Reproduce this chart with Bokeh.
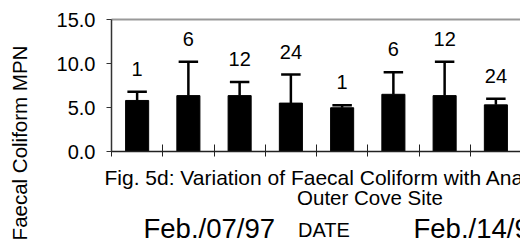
import math
from bokeh.plotting import figure
from bokeh.models import Range1d, FixedTicker, PrintfTickFormatter, Label, LinearAxis
from bokeh.embed import file_html
from bokeh.resources import INLINE
from bokeh.core.properties import value

# ---- data ----
analysis_times = ["1", "6", "12", "24", "1", "6", "12", "24"]
sample_dates = ["Feb./07/97", "Feb./14/97"]
mean_mpn = [5.8, 6.35, 6.35, 5.5, 4.97, 6.5, 6.35, 5.3]
std_mpn = [1.0, 3.85, 1.55, 3.25, 0.29, 2.5, 3.85, 0.7]
y_ticks = [0, 5, 10, 15]
y_min, y_max = 0, 15

FONT = "Liberation Sans"
W, H = 520, 242
# plot-area box in canvas pixels (left, top, bottom); right edge runs past the window
FL, FT, FB = 111, 19, 151
N = len(mean_mpn)
UX = 51.25                     # px per category
UY = (FB - FT) / (y_max - y_min)

xs = list(range(1, N + 1))
err_top = [m + s for m, s in zip(mean_mpn, std_mpn)]
x_lo, x_hi = 0.5, N + 0.5

# the frame fills the whole canvas; axes are pinned inside it
p = figure(width=W, height=H, output_backend="svg", toolbar_location=None,
           x_range=Range1d(x_lo - FL / UX, x_lo + (W - FL) / UX),
           y_range=Range1d(y_min - (H - FB) / UY, y_max + FT / UY),
           min_border=0, x_axis_location=None, y_axis_location=None)
p.outline_line_color = None
p.xgrid.visible = False
p.ygrid.visible = False
p.background_fill_color = "white"
p.border_fill_color = "white"

xa = LinearAxis(fixed_location=y_min, bounds=(x_lo, x_hi))
xa.ticker = FixedTicker(ticks=[x_lo + i for i in range(N + 1)])
xa.major_label_overrides = {x_lo + i: "" for i in range(N + 1)}
xa.major_tick_in = 7
xa.major_tick_out = 5
xa.minor_tick_line_color = None
xa.axis_line_color = "#222222"
xa.axis_line_width = 1.5
xa.major_tick_line_color = "#222222"
xa.major_tick_line_width = 1
p.add_layout(xa, "below")

top_border = LinearAxis(fixed_location=y_max, bounds=(x_lo, x_hi))
top_border.ticker = FixedTicker(ticks=[])
top_border.major_tick_line_color = None
top_border.minor_tick_line_color = None
top_border.axis_line_color = "#999999"
top_border.axis_line_width = 2
p.add_layout(top_border, "above")

ya = LinearAxis(fixed_location=x_lo, bounds=(y_min, y_max))
ya.ticker = FixedTicker(ticks=y_ticks)
ya.formatter = PrintfTickFormatter(format="%.1f")
ya.major_tick_in = 0
ya.major_tick_out = 5
ya.minor_tick_line_color = None
ya.axis_line_color = "#333333"
ya.axis_line_width = 1.5
ya.major_tick_line_color = "#333333"
ya.major_label_standoff = 11
ya.major_label_text_font = FONT
ya.major_label_text_font_size = "20px"
ya.major_label_text_color = "black"
p.add_layout(ya, "left")

# bars
p.vbar(x=xs, width=0.45, top=mean_mpn, bottom=y_min, fill_color="black", line_color="black")

# error bars (upper only)
p.segment(x0=xs, y0=mean_mpn, x1=xs, y1=err_top, line_color="black", line_width=2.5)
cap_half = 0.19
p.segment(x0=[x - cap_half for x in xs], y0=err_top, x1=[x + cap_half for x in xs], y1=err_top,
          line_color="black", line_width=2.5)

# analysis time labels
p.text(x=xs, y=err_top, text=analysis_times, y_offset=-23, text_align="center",
       text_baseline="alphabetic", text_font=value(FONT), text_font_size="20px",
       text_color="black")

def lab(px, py, text, size, align="center", angle=0.0):
    # px, py: pixel position (text middle) from the top-left of the canvas
    p.add_layout(Label(x=px, y=H - py, x_units="screen", y_units="screen", text=text,
                       text_font=FONT, text_font_size=size,
                       text_align=align, text_baseline="middle", angle=angle,
                       text_color="black"))

lab(18.5, 142.5, "Faecal Coliform MPN", "20.5px", angle=math.pi / 2)
lab(104, 177, "Fig. 5d: Variation of Faecal Coliform with Analysis Time", "21px", align="left")
lab(369.5, 197, "Outer Cove Site", "20.5px")
lab(143, 227.5, sample_dates[0], "27.5px", align="left")
lab(323.5, 229.5, "DATE", "20px")
lab(413, 227.5, sample_dates[1], "27.5px", align="left")

open("out.html", "w").write(file_html(p, INLINE))
